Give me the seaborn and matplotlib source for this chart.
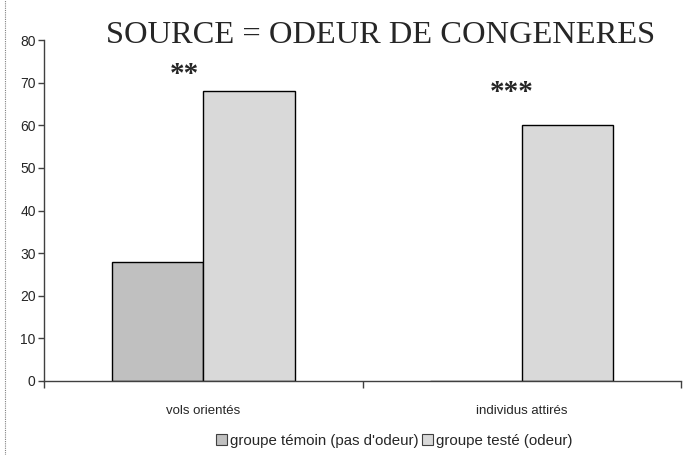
import matplotlib
matplotlib.use("Agg")
import matplotlib.pyplot as plt
from matplotlib.lines import Line2D
from matplotlib.patches import Patch
import seaborn as sns
import pandas as pd

categories = ["vols orientés", "individus attirés"]
groups = ["groupe témoin (pas d'odeur)", "groupe testé (odeur)"]
temoin = [28, 0]
teste = [68, 60]
stars = ["**", "***"]
star_offset = [(-0.06, 72.0), (-0.03, 67.8)]
colors = ["#C0C0C0", "#D9D9D9"]

df = pd.DataFrame({
    "categorie": categories * 2,
    "groupe": [groups[0]] * 2 + [groups[1]] * 2,
    "valeur": temoin + teste,
})

sns.set_style("white")
plt.rcParams["font.family"] = ["Liberation Sans", "DejaVu Sans"]

fig = plt.figure(figsize=(6.94, 4.55), dpi=100)
ax = fig.add_axes([44 / 694, 1 - 381 / 455, 637 / 694, 341 / 455])

sns.barplot(data=df, x="categorie", y="valeur", hue="groupe", palette=colors,
            width=0.575, edgecolor="black", linewidth=1.0, legend=False,
            saturation=1, ax=ax)

ax.set_xlim(-0.5, 1.5)
ax.set_ylim(0, 80)
ax.set_yticks(range(0, 81, 10))
ax.set_xlabel("")
ax.set_ylabel("")

for s in ["top", "right"]:
    ax.spines[s].set_visible(False)
for s in ["left", "bottom"]:
    ax.spines[s].set_color("#404040")
    ax.spines[s].set_linewidth(1.0)

ax.tick_params(axis="y", direction="out", length=4, width=1, color="#404040",
               labelsize=10, pad=2, left=True)
ax.tick_params(axis="x", which="major", length=0, labelsize=9.5, pad=17)
ax.set_xticks([-0.5, 0.5, 1.5], minor=True)
ax.tick_params(axis="x", which="minor", direction="out", length=5, width=1,
               color="#404040", bottom=True)

for i, (txt, (dx, y)) in enumerate(zip(stars, star_offset)):
    ax.text(i + dx, y, txt, ha="center", va="center", fontsize=21,
            family="Liberation Serif", fontweight="bold")

fig.text(0.549, 0.922, "SOURCE = ODEUR DE CONGENERES", ha="center", va="center",
         fontsize=23.4, family="Liberation Serif")

handles = [Patch(facecolor=c, edgecolor="#404040", linewidth=0.8) for c in colors]
fig.legend(handles, groups, loc="center", bbox_to_anchor=(0.568, 0.031), ncol=2,
           frameon=False, fontsize=10.8, handlelength=0.7, handleheight=0.7,
           handletextpad=0.2, columnspacing=0.25)

fig.add_artist(Line2D([5 / 694, 5 / 694], [0, 1], transform=fig.transFigure,
                      color="#808080", linestyle=(0, (1, 1)), linewidth=0.8))

fig.savefig("out.png", dpi=100)
